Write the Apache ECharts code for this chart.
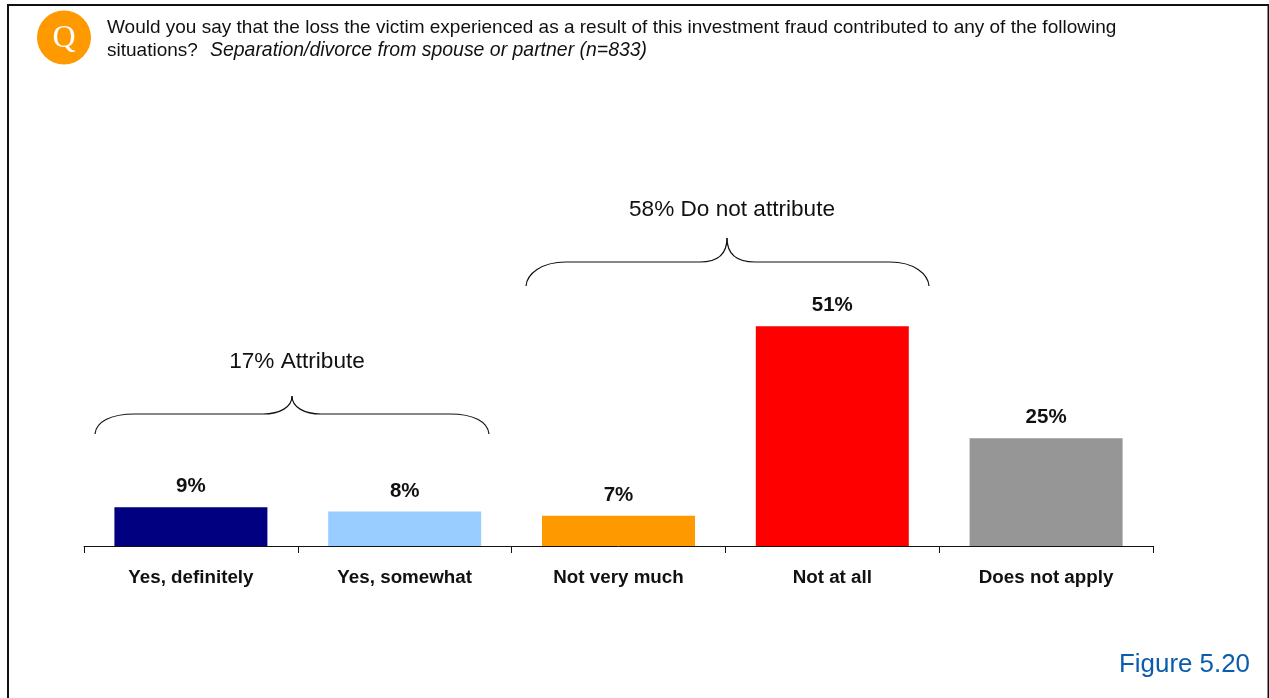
<!DOCTYPE html>
<html><head><meta charset="utf-8">
<style>html,body{margin:0;padding:0;background:#fff}#c{width:1269px;height:698px}</style>
<script src="https://cdn.jsdelivr.net/npm/echarts@6/dist/echarts.min.js"></script>
</head><body><div id="c"></div>
<script>
const categories = ['Yes, definitely','Yes, somewhat','Not very much','Not at all','Does not apply'];
const values = [9,8,7,51,25];
const barColors = ['#000080','#99CCFF','#FF9900','#FF0000','#969696'];
const questionLine1 = 'Would you say that the loss the victim experienced as a result of this investment fraud contributed to any of the following';
const questionLine2 = 'situations?';
const questionDetail = 'Separation/divorce from spouse or partner (n=833)';
const groupAttribute = '17% Attribute';
const groupNotAttribute = '58% Do not attribute';
const figureLabel = 'Figure 5.20';
const F = '"Liberation Sans", Arial, sans-serif';
const chart = echarts.init(document.getElementById('c'), null, {renderer:'canvas'});
const braceStyle = {fill:'none', stroke:'#111', lineWidth:1.2};
function curve(x1,y1,a,b,c,d,x2,y2){ return {type:'bezierCurve', shape:{x1,y1,cpx1:a,cpy1:b,cpx2:c,cpy2:d,x2,y2}, style:braceStyle, silent:true}; }
function seg(x1,y1,x2,y2){ return {type:'line', shape:{x1,y1,x2,y2}, style:braceStyle, silent:true}; }
function brace(x0,xa,xb,xm,xc,xd,x1,yEnd,yTop,yTip){
  return [
    curve(x0,yEnd,x0+1,yEnd-12,x0+15,yTop,xa,yTop),
    seg(xa,yTop,xb,yTop),
    curve(xb,yTop,xb+17,yTop,xm,yTop-7,xm,yTip),
    curve(xm,yTip,xm,yTop-7,xc-17,yTop,xc,yTop),
    seg(xc,yTop,xd,yTop),
    curve(xd,yTop,x1-15,yTop,x1-1,yEnd-12,x1,yEnd)
  ];
}
function txt(x,y,t,s){ return {type:'text', x, y, style:Object.assign({text:t, fill:'#111', font:'19px '+F, textVerticalAlign:'middle'}, s||{}), silent:true}; }
chart.setOption({
  animation:false,
  backgroundColor:'#fff',
  grid:{left:84, right:116, top:115, bottom:152, containLabel:false},
  xAxis:{type:'category', data:categories,
    axisLine:{lineStyle:{color:'#111',width:1}},
    axisTick:{show:true, length:7, alignWithLabel:false, lineStyle:{color:'#111',width:1}},
    axisLabel:{color:'#111', fontFamily:F, fontWeight:'bold', fontSize:18.8, margin:22, interval:0}},
  yAxis:{type:'value', min:0, max:100, show:false},
  series:[{type:'bar', barWidth:153,
    data:values.map((v,i)=>({value:v, itemStyle:{color:barColors[i]}})),
    label:{show:true, position:'top', distance:10, formatter:'{c}%', color:'#111', fontFamily:F, fontWeight:'bold', fontSize:20.5}}],
  graphic:{elements:[
    {type:'polyline', shape:{points:[[8,698],[8,5],[1268.5,5],[1268.5,698]]}, style:{fill:'none',stroke:'#111',lineWidth:2}, silent:true},
    {type:'circle', shape:{cx:64,cy:37.5,r:27}, style:{fill:'#FF9900'}, silent:true},
    {type:'text', x:64, y:39, style:{text:'Q', fill:'#fff', font:'32px "Liberation Serif", serif', textAlign:'center', textVerticalAlign:'middle'}, silent:true},
    txt(107,27.5,questionLine1),
    txt(107,51,questionLine2),
    txt(210,51,questionDetail,{font:'italic 19.45px '+F}),
    txt(297,361.5,groupAttribute,{font:'22.6px '+F, textAlign:'center'}),
    txt(732,210,groupNotAttribute,{font:'22.6px '+F, textAlign:'center'}),
    txt(1250,665,figureLabel,{font:'25.9px '+F, fill:'#0B5CAD', textAlign:'right'})
  ].concat(
    brace(95,135,263,292,321,450,489,434,414,396),
    brace(526,566,700,727,755,890,929,286,262,238)
  )}
});
</script></body></html>
